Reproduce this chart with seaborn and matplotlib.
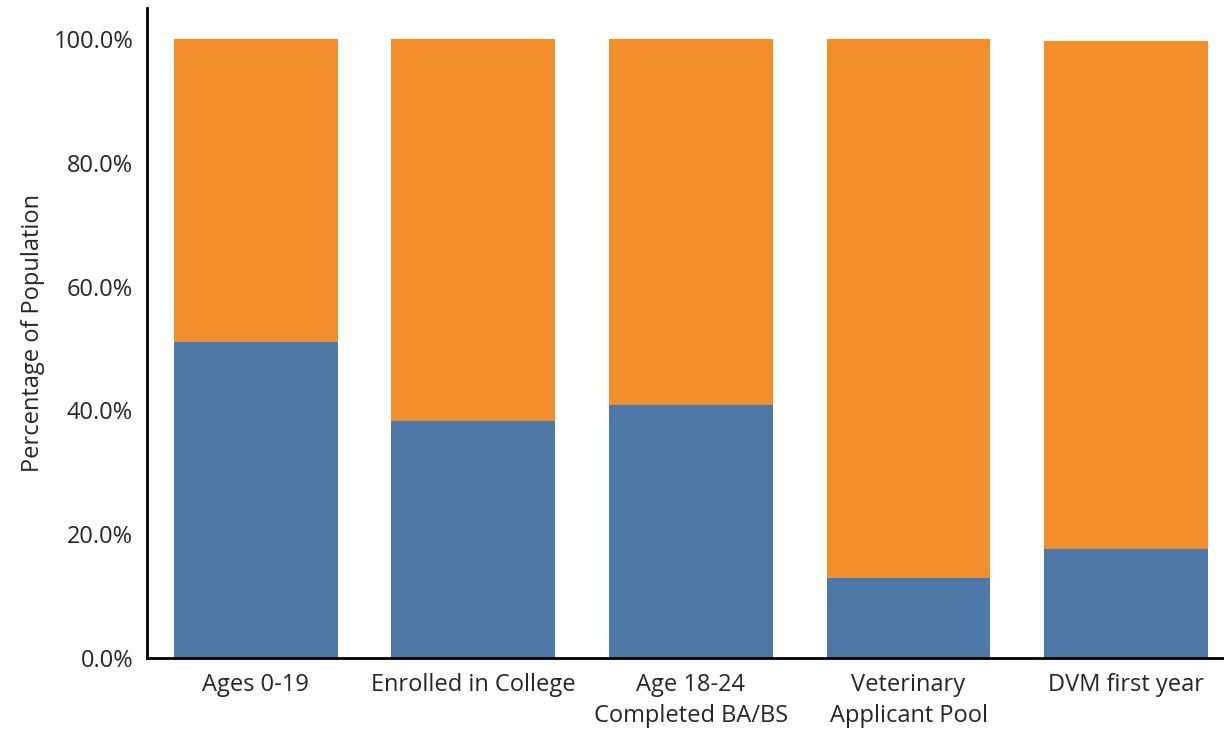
import pandas as pd
import matplotlib.pyplot as plt
import seaborn as sns
from matplotlib.ticker import PercentFormatter

# ---------- Data ----------
categories = ["Ages 0-19", "Enrolled in College", "Age 18-24\nCompleted BA/BS",
              "Veterinary\nApplicant Pool", "DVM first year"]
blue_share = [51.0, 38.3, 40.9, 13.0, 17.6]
orange_share = [49.0, 61.7, 59.1, 87.0, 82.1]

df = pd.DataFrame({"category": categories, "blue": blue_share, "orange": orange_share})
df["total"] = df["blue"] + df["orange"]

# ---------- Style ----------
sns.set_style("white")
plt.rcParams["font.family"] = ["Open Sans", "DejaVu Sans"]

fig = plt.figure(figsize=(12.24, 7.32), dpi=100)
ax = fig.add_axes([147 / 1224, 1 - 658 / 732, 1 - 147 / 1224, (658 - 8) / 732])

# stacked bars: draw the total (orange) first, the blue part over it
sns.barplot(data=df, x="category", y="total", color="#F28E2B", width=0.753,
            saturation=1, linewidth=0, ax=ax)
sns.barplot(data=df, x="category", y="blue", color="#4E79A7", width=0.753,
            saturation=1, linewidth=0, ax=ax)

ax.set_xlim(-0.5, 4.45)
ax.set_ylim(0, 105)
ax.set_yticks([0, 20, 40, 60, 80, 100])
ax.yaxis.set_major_formatter(PercentFormatter(decimals=1))
ax.set_xlabel("")
ax.set_ylabel("Percentage of Population", fontsize=17, labelpad=6)

ax.tick_params(axis="y", labelsize=17, length=8, color="#e6e6e6", width=1, pad=2)
ax.tick_params(axis="x", labelsize=17, length=0, pad=11)
for lbl in ax.get_xticklabels():
    lbl.set_linespacing(1.4)

for side in ["top", "right"]:
    ax.spines[side].set_visible(False)
for side in ["left", "bottom"]:
    ax.spines[side].set_color("black")
    ax.spines[side].set_linewidth(2)

fig.savefig("out.png", dpi=100)
